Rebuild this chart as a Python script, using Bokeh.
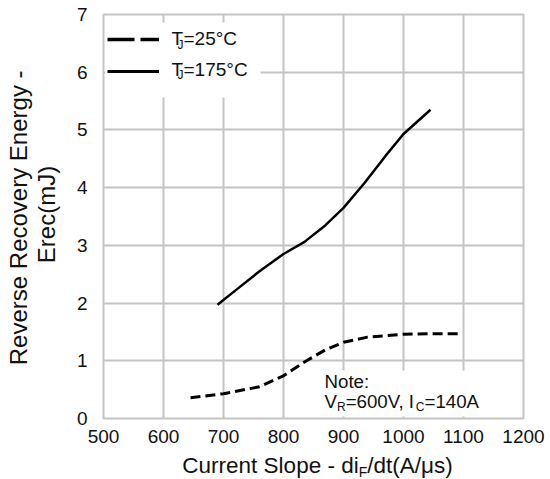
import math
from bokeh.plotting import figure
from bokeh.layouts import column, row
from bokeh.models import (Range1d, FixedTicker, Label, Legend, LegendItem,
                          BoxAnnotation, ColumnDataSource)
from bokeh.embed import file_html
from bokeh.resources import INLINE

# ---- data ----
x_25 = [645, 700, 760, 800, 835, 870, 900, 940, 1000, 1050, 1095]
e_25 = [0.36, 0.43, 0.55, 0.74, 0.98, 1.19, 1.32, 1.41, 1.46, 1.47, 1.47]
x_175 = [690, 720, 760, 800, 835, 870, 900, 935, 970, 1000, 1045]
e_175 = [1.97, 2.22, 2.55, 2.85, 3.06, 3.35, 3.65, 4.08, 4.55, 4.93, 5.35]
x_ticks = [500, 600, 700, 800, 900, 1000, 1100, 1200]
y_ticks = [0, 1, 2, 3, 4, 5, 6, 7]

FONT = "Liberation Sans"
TXT = "#111111"
GRID = "#c4c4c4"

W, H = 550, 479
YW = 62          # width of the y-title strip
TOPH = 452       # height of the top row (strip + main chart)
XH = H - TOPH    # height of the x-title strip
L, R, T = 103, 27, 14
FB = 418         # frame bottom (page px)
BASE_FIX = 0.35  # renderer places 'alphabetic' text this many em too low
VFIX = 38        # rotated labels come out this many px too high

# ---- Arial/Liberation Sans advance widths ----
AW = {' ': 278, '-': 333, 'C': 722, 'u': 556, 'r': 333, 'e': 556, 'n': 556, 't': 278,
      'S': 667, 'l': 222, 'o': 556, 'p': 556, 'd': 556, 'i': 222, 'F': 611, '/': 278,
      '(': 333, ')': 333, 'A': 667, 'μ': 576, 's': 500, 'T': 611, 'J': 500, '=': 584,
      '°': 400, 'N': 722, ':': 278, 'V': 667, 'R': 722, ',': 278, 'I': 278,
      'E': 667, 'c': 500, 'm': 833, 'v': 500, 'g': 556, 'y': 500, 'a': 556}


def tw(s, size):
    return sum(AW.get(c, 556) for c in s) / 1000.0 * size


def lab(fig, text, x, y, size):
    """y is the wanted baseline, in screen units from the frame bottom"""
    fig.add_layout(Label(x=x, y=y + BASE_FIX * size, x_units="screen", y_units="screen",
                         text=text, text_font=FONT, text_font_size=f"{size}px",
                         text_color=TXT, text_baseline="alphabetic", text_align="left"))


def vlab(fig, text, x, y, size):
    fig.add_layout(Label(x=x, y=y - VFIX, x_units="screen", y_units="screen", text=text,
                         angle=math.pi / 2, text_font=FONT, text_font_size=f"{size}px",
                         text_color=TXT, text_baseline="middle", text_align="center"))


def rich(fig, parts, x, y, align="left"):
    total = sum(tw(t, sz) for t, sz, dy in parts)
    cx = x - total / 2.0 if align == "center" else x
    for t, sz, dy in parts:
        lab(fig, t, cx, y + dy, sz)
        cx += tw(t, sz)


def blank_fig(w, h):
    f = figure(width=w, height=h, output_backend="svg", toolbar_location=None,
               x_axis_type=None, y_axis_type=None, x_range=Range1d(0, 1), y_range=Range1d(0, 1),
               min_border=0, min_border_left=0, min_border_right=0,
               min_border_top=0, min_border_bottom=0)
    f.outline_line_color = None
    f.background_fill_color = "white"
    f.border_fill_color = "white"
    f.grid.visible = False
    return f


# ---- main chart ----
p = figure(width=W - YW, height=TOPH, output_backend="svg", toolbar_location=None,
           x_range=Range1d(500, 1200), y_range=Range1d(0, 7),
           min_border_left=L - YW, min_border_right=R, min_border_top=T,
           min_border_bottom=TOPH - FB)
p.background_fill_color = "white"
p.border_fill_color = "white"
p.outline_line_color = GRID
p.outline_line_width = 2

p.xaxis.ticker = FixedTicker(ticks=x_ticks)
p.yaxis.ticker = FixedTicker(ticks=y_ticks)
for ax in (p.xaxis[0], p.yaxis[0]):
    ax.axis_line_color = None
    ax.major_tick_line_color = None
    ax.minor_tick_line_color = None
    ax.major_tick_out = 0
    ax.major_tick_in = 0
    ax.major_label_text_font = FONT
    ax.major_label_text_font_size = "19px"
    ax.major_label_text_color = TXT
p.xaxis.major_label_standoff = 11
p.yaxis.major_label_standoff = 16
p.xgrid.ticker = FixedTicker(ticks=x_ticks)
p.ygrid.ticker = FixedTicker(ticks=y_ticks)
for g in (p.xgrid[0], p.ygrid[0]):
    g.grid_line_color = GRID
    g.grid_line_width = 2

src25 = ColumnDataSource(dict(x=x_25, y=e_25))
src175 = ColumnDataSource(dict(x=x_175, y=e_175))
p.line("x", "y", source=src25, line_color="black", line_width=3, line_dash="10 5")
p.line("x", "y", source=src175, line_color="black", line_width=2.5)

# hidden renderers on the same data, used only to give the legend keys their style
k25 = p.line("x", "y", source=src25, line_color="black", line_width=3.5,
             line_dash="27 6", visible=False)
k175 = p.line("x", "y", source=src175, line_color="black", line_width=3, visible=False)


def sx(px):
    return px - L


def sy(py):
    return FB - py


# white legend box, then transparent legend on top
p.add_layout(BoxAnnotation(left=1.5, right=sx(260), bottom=sy(97), top=sy(22),
                           left_units="screen", right_units="screen",
                           bottom_units="screen", top_units="screen",
                           fill_color="white", fill_alpha=1.0, line_color=None))
leg = Legend(items=[LegendItem(label=" ", renderers=[k25]),
                    LegendItem(label=" ", renderers=[k175])],
             location=(4, sy(81)), glyph_width=52, glyph_height=20, label_height=20,
             label_width=10, spacing=12, padding=6, margin=0,
             border_line_color=None, background_fill_alpha=0.0,
             label_text_font_size="8px", click_policy="none")
p.add_layout(leg, "center")

# note box
p.add_layout(BoxAnnotation(left=sx(320), right=sx(505), bottom=2, top=sy(370),
                           left_units="screen", right_units="screen",
                           bottom_units="screen", top_units="screen",
                           fill_color="white", fill_alpha=1.0, line_color=None))

# legend texts
for base, txt in ((45, "=25°C"), (75.5, "=175°C")):
    lab(p, "T", sx(171), sy(base), 19)
    lab(p, "J", sx(177), sy(base + 3.5), 12)
    lab(p, txt, sx(183), sy(base), 19)

# note
lab(p, "Note:", sx(324), sy(388), 18.7)
rich(p, [("V", 18.7, 0), ("R", 12, -3.5), ("=600V, I", 18.7, 0), ("C", 12, -3.5),
         ("=140A", 18.7, 0)], sx(324), sy(407.5))

# ---- y title strip ----
yf = blank_fig(YW, TOPH)
vlab(yf, "Reverse Recovery Energy  -", 17.5, TOPH - 210, 24)
vlab(yf, "Erec(mJ)", 46, TOPH - 210, 24)

# ---- x title strip ----
xf = blank_fig(W, XH)
rich(xf, [("Current Slope - di", 22.5, 0), ("F", 14, -4), ("/dt(A/μs)", 22.5, 0)],
     317, H - 472.7, align="center")

layout = column(row(yf, p, spacing=0), xf, spacing=0)
open("out.html", "w").write(file_html(layout, INLINE))
